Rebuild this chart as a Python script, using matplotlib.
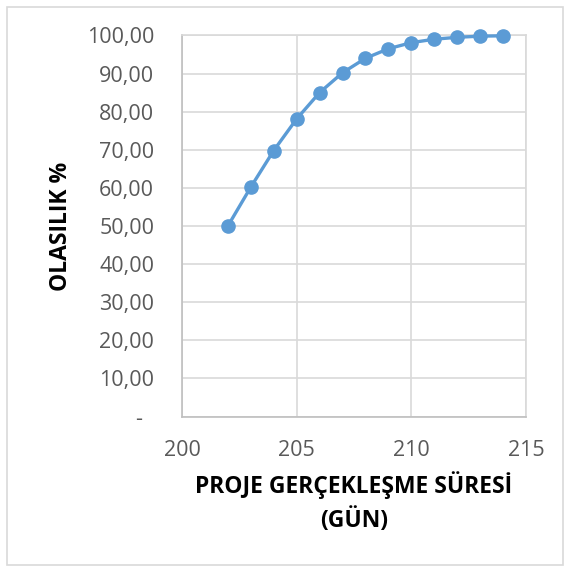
import matplotlib.pyplot as plt
from matplotlib.patches import Rectangle
from matplotlib.ticker import FuncFormatter, MultipleLocator

plt.rcParams["font.family"] = ["Open Sans", "DejaVu Sans"]

# project duration (days) and cumulative probability (%)
days = [202, 203, 204, 205, 206, 207, 208, 209, 210, 211, 212, 213, 214]
probability = [50.0, 60.2, 69.8, 78.1, 85.0, 90.2, 94.0, 96.5, 98.1, 99.0, 99.5, 99.8, 99.9]

x_label = "PROJE GERÇEKLEŞME SÜRESİ\n(GÜN)"
y_label = "OLASILIK %"

LINE_COLOR = "#5B9BD5"
GRID_COLOR = "#D9D9D9"
AXIS_COLOR = "#BFBFBF"
TICK_COLOR = "#595959"


def y_fmt(v, _pos):
    if abs(v) < 1e-9:
        return "-  "
    return f"{v:.2f}".replace(".", ",")


def main():
    fig = plt.figure(figsize=(5.67, 5.69), dpi=100)
    ax = fig.add_axes([182 / 567, 1 - 416.6 / 569, (526 - 182) / 567, (416.6 - 35.4) / 569])

    ax.plot(days, probability, color=LINE_COLOR, linewidth=2.4,
            marker="o", markersize=9.5, zorder=3, clip_on=False)

    ax.set_xlim(200, 215)
    ax.set_ylim(0, 100)
    ax.xaxis.set_major_locator(MultipleLocator(5))
    ax.yaxis.set_major_locator(MultipleLocator(10))
    ax.yaxis.set_major_formatter(FuncFormatter(y_fmt))

    ax.grid(True, color=GRID_COLOR, linewidth=1.2)
    ax.set_axisbelow(True)
    for side in ("top", "right"):
        ax.spines[side].set_color(GRID_COLOR)
        ax.spines[side].set_linewidth(1.2)
    for side in ("left", "bottom"):
        ax.spines[side].set_color(AXIS_COLOR)
        ax.spines[side].set_linewidth(1.2)

    ax.tick_params(axis="both", length=0, labelsize=15.5, colors=TICK_COLOR)
    ax.tick_params(axis="x", pad=17)
    ax.tick_params(axis="y", pad=20)

    ax.set_xlabel(x_label, fontsize=16.5, fontweight="bold", labelpad=7,
                  linespacing=1.5)
    ax.set_ylabel(y_label, fontsize=16.5, fontweight="bold", labelpad=10)

    # outer chart border
    fig.patches.append(Rectangle((7 / 567, 4 / 569), 556 / 567, 558 / 569,
                                 transform=fig.transFigure, fill=False,
                                 edgecolor="#D9D9D9", linewidth=1.2))

    fig.savefig("out.png", dpi=100)
    plt.close(fig)


if __name__ == "__main__":
    main()
